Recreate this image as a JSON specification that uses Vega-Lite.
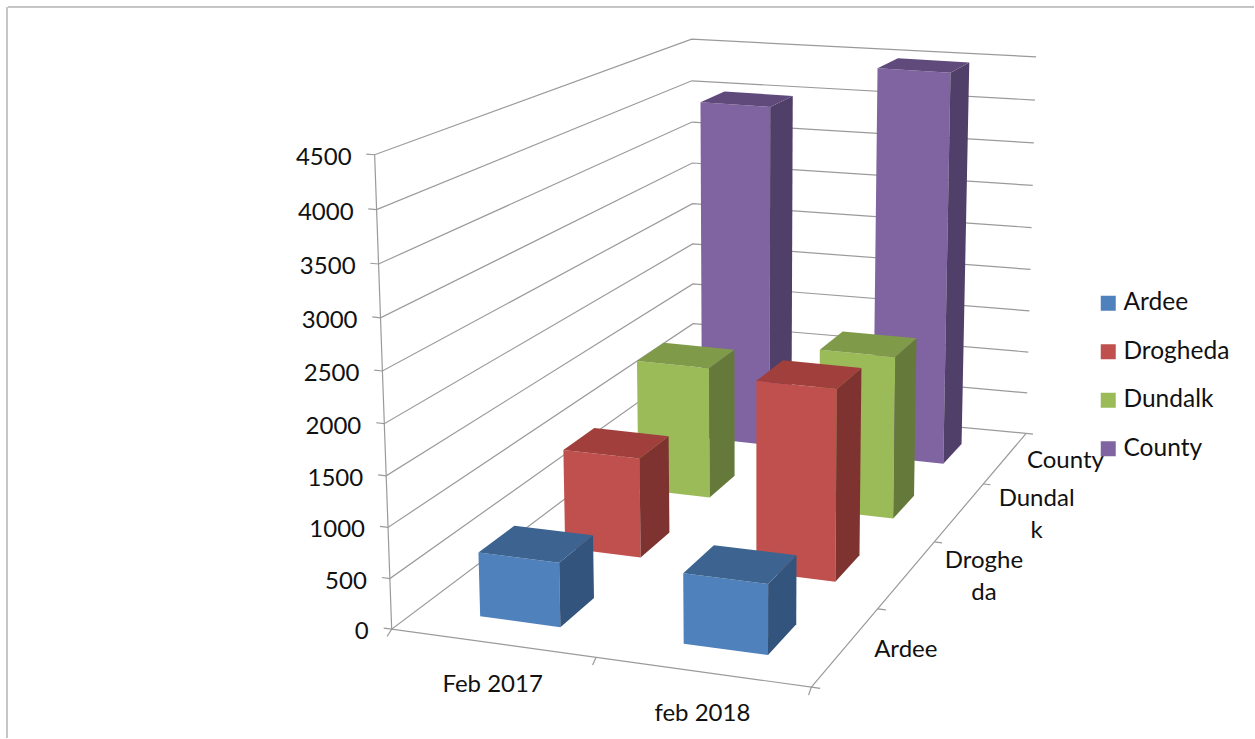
{"$schema":"https://vega.github.io/schema/vega-lite/v6.json","width":1255,"height":739,"padding":0,"autosize":{"type":"fit","contains":"padding"},"background":"white","view":{"stroke":null},"config":{"font":"Lato"},
"resolve":{"scale":{"color":"independent"}},
"layer":[
{"data":{"values":[{"edge":"top","from":8,"to":1255,"at":7},{"edge":"left","from":7,"to":739,"at":7}]},"transform":[{"filter":"datum.edge=='top'"}],"mark":{"type":"rule","color":"#8c8c8c","strokeWidth":1},"encoding":{"x":{"field":"from","type":"quantitative","scale":{"domain":[0,1255],"nice":false,"zero":false},"axis":null},"x2":{"field":"to"},"y":{"field":"at","type":"quantitative","scale":{"domain":[739,0],"nice":false,"zero":false},"axis":null}}},
{"data":{"values":[{"edge":"top","from":8,"to":1255,"at":7},{"edge":"left","from":7,"to":739,"at":7}]},"transform":[{"filter":"datum.edge=='left'"}],"mark":{"type":"rule","color":"#8c8c8c","strokeWidth":1},"encoding":{"y":{"field":"from","type":"quantitative","scale":{"domain":[739,0],"nice":false,"zero":false},"axis":null},"y2":{"field":"to"},"x":{"field":"at","type":"quantitative","scale":{"domain":[0,1255],"nice":false,"zero":false},"axis":null}}},
{"data":{"values":[{"tick":0},{"tick":500},{"tick":1000},{"tick":1500},{"tick":2000},{"tick":2500},{"tick":3000},{"tick":3500},{"tick":4000},{"tick":4500}]},
"transform":[{"calculate":"[{i:0,u:-0.02,v:0},{i:1,u:0,v:0},{i:2,u:0,v:1},{i:3,u:1,v:1}]","as":"p"},{"flatten":["p"]},{"calculate":"datum.tick/4500","as":"W"},{"calculate":"(392+379.4*datum.p.u+534.6*datum.p.v-33.9*datum.W)/(1-0.05*datum.p.u+0.3217*datum.p.v-0.0449*datum.W)-7*(1-datum.p.u)*datum.p.v","as":"px"},{"calculate":"(630+23.6*datum.p.u-101.7*datum.p.v-482*datum.W)/(1-0.05*datum.p.u+0.3217*datum.p.v-0.0449*datum.W)+3*(1-datum.p.u)*datum.p.v","as":"py"},{"calculate":"datum.p.i","as":"ord"}],
"mark":{"type":"line","color":"#9a9a9a","strokeWidth":1.2},"encoding":{"x":{"field":"px","type":"quantitative","scale":{"domain":[0,1255],"nice":false,"zero":false},"axis":null},"y":{"field":"py","type":"quantitative","scale":{"domain":[739,0],"nice":false,"zero":false},"axis":null},"detail":{"field":"tick"},"order":{"field":"ord"}}},
{"data":{"values":[{"line":"a"}]},
"transform":[{"calculate":"[{k:'fl',i:0,u:0,v:0,w:0},{k:'fl',i:1,u:0,v:0,w:1},{k:'fr',i:0,u:0.011,v:-0.022,w:0},{k:'fr',i:1,u:0,v:0,w:0},{k:'fr',i:2,u:1,v:0,w:0},{k:'fr',i:3,u:1,v:1,w:0},{k:'t1',i:0,u:0.5,v:0,w:0},{k:'t1',i:1,u:0.51,v:-0.022,w:0},{k:'t2',i:0,u:1,v:0,w:0},{k:'t2',i:1,u:1.008,v:-0.022,w:0},{k:'s1',i:0,u:1,v:0,w:0},{k:'s1',i:1,u:1.02,v:0,w:0},{k:'s2',i:0,u:1,v:0.25,w:0},{k:'s2',i:1,u:1.02,v:0.25,w:0},{k:'s3',i:0,u:1,v:0.5,w:0},{k:'s3',i:1,u:1.02,v:0.5,w:0},{k:'s4',i:0,u:1,v:0.75,w:0},{k:'s4',i:1,u:1.02,v:0.75,w:0},{k:'s5',i:0,u:1,v:1,w:0},{k:'s5',i:1,u:1.02,v:1,w:0}]","as":"p"},{"flatten":["p"]},{"calculate":"(392+379.4*datum.p.u+534.6*datum.p.v-33.9*datum.p.w)/(1-0.05*datum.p.u+0.3217*datum.p.v-0.0449*datum.p.w)","as":"px"},{"calculate":"(630+23.6*datum.p.u-101.7*datum.p.v-482*datum.p.w)/(1-0.05*datum.p.u+0.3217*datum.p.v-0.0449*datum.p.w)","as":"py"},{"calculate":"datum.p.k","as":"key"},{"calculate":"datum.p.i","as":"ord"}],
"mark":{"type":"line","color":"#9a9a9a","strokeWidth":1.2},"encoding":{"x":{"field":"px","type":"quantitative","scale":{"domain":[0,1255],"nice":false,"zero":false},"axis":null},"y":{"field":"py","type":"quantitative","scale":{"domain":[739,0],"nice":false,"zero":false},"axis":null},"detail":{"field":"key"},"order":{"field":"ord"}}},
{"data":{"values":[
{"period":"Feb 2017","series":"County","value":3985},{"period":"feb 2018","series":"County","value":4500},
{"period":"Feb 2017","series":"Dundalk","value":1460},{"period":"feb 2018","series":"Dundalk","value":1785},
{"period":"Feb 2017","series":"Drogheda","value":1050},{"period":"feb 2018","series":"Drogheda","value":1985},
{"period":"Feb 2017","series":"Ardee","value":640},{"period":"feb 2018","series":"Ardee","value":690}]},
"transform":[{"calculate":"[{f:'front',i:0,du:-1,dv:-1,h:0},{f:'front',i:1,du:1,dv:-1,h:0},{f:'front',i:2,du:1,dv:-1,h:1},{f:'front',i:3,du:-1,dv:-1,h:1},{f:'side',i:0,du:1,dv:-1,h:0},{f:'side',i:1,du:1,dv:1,h:0},{f:'side',i:2,du:1,dv:1,h:1},{f:'side',i:3,du:1,dv:-1,h:1},{f:'top',i:0,du:-1,dv:-1,h:1},{f:'top',i:1,du:1,dv:-1,h:1},{f:'top',i:2,du:1,dv:1,h:1},{f:'top',i:3,du:-1,dv:1,h:1}]","as":"p"},{"flatten":["p"]},
{"calculate":"(datum.period=='Feb 2017'?0.25:0.75)+0.1*datum.p.du","as":"U"},
{"calculate":"indexof(['Ardee','Drogheda','Dundalk','County'],datum.series)*0.25+0.125+0.05*datum.p.dv","as":"V"},
{"calculate":"datum.p.h*datum.value/4500","as":"W"},
{"calculate":"(392+379.4*datum.U+534.6*datum.V-33.9*datum.W)/(1-0.05*datum.U+0.3217*datum.V-0.0449*datum.W)-7*(1-datum.U)*datum.V","as":"px"},
{"calculate":"(630+23.6*datum.U-101.7*datum.V-482*datum.W)/(1-0.05*datum.U+0.3217*datum.V-0.0449*datum.W)+1.5","as":"py"},
{"calculate":"datum.p.f=='front'?datum.series:datum.series+' '+datum.p.f","as":"shade"},
{"calculate":"datum.period+datum.series+datum.p.f","as":"key"},{"calculate":"datum.p.i","as":"ord"}],
"mark":{"type":"line","filled":true,"strokeWidth":0.5},
"encoding":{"x":{"field":"px","type":"quantitative","scale":{"domain":[0,1255],"nice":false,"zero":false},"axis":null},"y":{"field":"py","type":"quantitative","scale":{"domain":[739,0],"nice":false,"zero":false},"axis":null},"detail":{"field":"key"},"order":{"field":"ord"},
"color":{"field":"shade","type":"nominal","scale":{"domain":["Ardee","Drogheda","Dundalk","County","Ardee side","Drogheda side","Dundalk side","County side","Ardee top","Drogheda top","Dundalk top","County top"],"range":["#4f81bd","#c0504d","#9bbb59","#8064a2","#33547c","#7f3331","#657a3a","#503f68","#3d6390","#a03f3c","#7f9a48","#604a7c"]},
"legend":{"values":["Ardee","Drogheda","Dundalk","County"],"title":null,"orient":"none","legendX":1096,"legendY":291,"symbolType":"square","symbolSize":225,"symbolStrokeWidth":0,"labelFontSize":24.5,"labelColor":"#111111","labelOffset":3,"rowPadding":23.5,"labelFont":"Lato"}}}},
{"data":{"values":[{"tick":0},{"tick":500},{"tick":1000},{"tick":1500},{"tick":2000},{"tick":2500},{"tick":3000},{"tick":3500},{"tick":4000},{"tick":4500}]},
"transform":[{"calculate":"datum.tick/4500","as":"W"},{"calculate":"(392-33.9*datum.W)/(1-0.0449*datum.W)","as":"px"},{"calculate":"(630-482*datum.W)/(1-0.0449*datum.W)","as":"py"}],
"mark":{"type":"text","font":"Lato","fontSize":24,"align":"right","baseline":"middle","dx":-23,"dy":3,"color":"#111111"},
"encoding":{"x":{"field":"px","type":"quantitative","scale":{"domain":[0,1255],"nice":false,"zero":false},"axis":null},"y":{"field":"py","type":"quantitative","scale":{"domain":[739,0],"nice":false,"zero":false},"axis":null},"text":{"field":"tick","type":"nominal"}}},
{"data":{"values":[{"period":"Feb 2017"},{"period":"feb 2018"}]},
"transform":[{"calculate":"datum.period=='Feb 2017'?0.25:0.75","as":"U"},{"calculate":"(392+379.4*datum.U)/(1-0.05*datum.U)","as":"px"},{"calculate":"(630+23.6*datum.U)/(1-0.05*datum.U)","as":"py"}],
"mark":{"type":"text","font":"Lato","fontSize":24,"align":"center","baseline":"middle","dy":42,"color":"#111111"},
"encoding":{"x":{"field":"px","type":"quantitative","scale":{"domain":[0,1255],"nice":false,"zero":false},"axis":null},"y":{"field":"py","type":"quantitative","scale":{"domain":[739,0],"nice":false,"zero":false},"axis":null},"text":{"field":"period","type":"nominal"}}},
{"data":{"values":[{"series":"Ardee","label":"Ardee"},{"series":"Drogheda","label":"Droghe\nda"},{"series":"Dundalk","label":"Dundal\nk"},{"series":"County","label":"County"}]},
"transform":[{"calculate":"indexof(['Ardee','Drogheda','Dundalk','County'],datum.series)*0.25+0.125","as":"V"},{"calculate":"(771.4+534.6*datum.V)/(0.95+0.3217*datum.V)+(indexof(datum.label,'\\n')>0?77:60)","as":"px"},{"calculate":"(653.6-101.7*datum.V)/(0.95+0.3217*datum.V)+(indexof(datum.label,'\\n')>0?-13:3.5)","as":"py"}],
"mark":{"type":"text","font":"Lato","fontSize":24,"align":"center","baseline":"middle","lineBreak":"\n","lineHeight":32,"color":"#111111"},
"encoding":{"x":{"field":"px","type":"quantitative","scale":{"domain":[0,1255],"nice":false,"zero":false},"axis":null},"y":{"field":"py","type":"quantitative","scale":{"domain":[739,0],"nice":false,"zero":false},"axis":null},"text":{"field":"label","type":"nominal"}}}
]}
